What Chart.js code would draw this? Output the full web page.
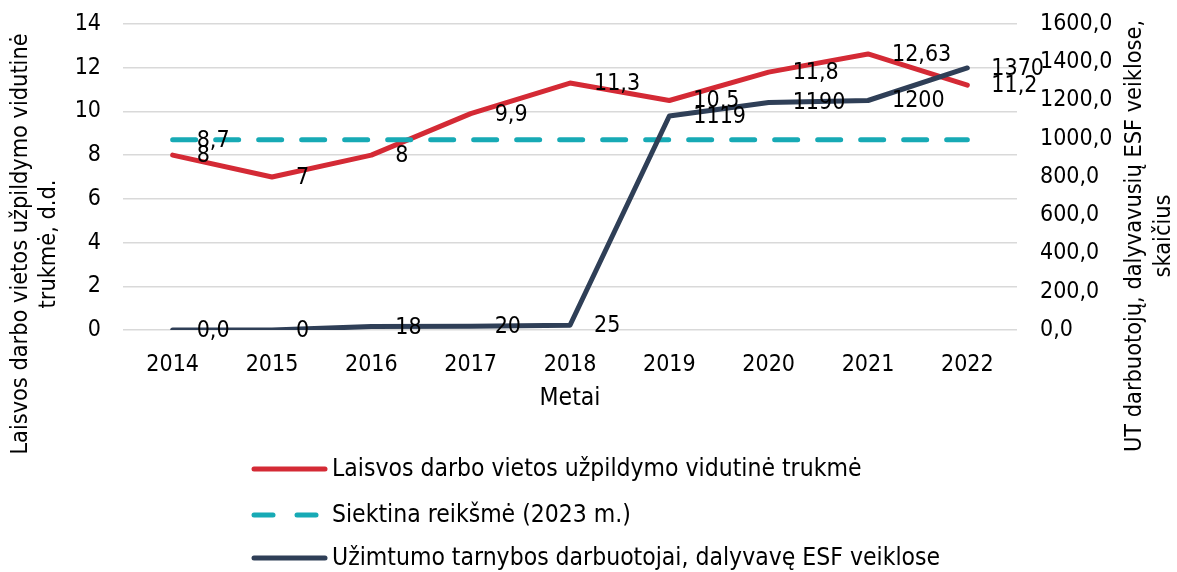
<!DOCTYPE html>
<html>
<head>
<meta charset="utf-8">
<script src="https://cdn.jsdelivr.net/npm/chart.js@4.4.0/dist/chart.umd.min.js"></script>
<style>
  html, body { margin: 0; padding: 0; background: #ffffff; }
  #wrap { width: 1177px; height: 572px; }
</style>
</head>
<body>
<div id="wrap"><canvas id="c" width="1177" height="572"></canvas></div>
<script>
// ---- data ----
const years = ['2014', '2015', '2016', '2017', '2018', '2019', '2020', '2021', '2022'];
const fillDuration = [8, 7, 8, 9.9, 11.3, 10.5, 11.8, 12.63, 11.2];
const targetValue = [8.7, 8.7, 8.7, 8.7, 8.7, 8.7, 8.7, 8.7, 8.7];
const staffInEsf = [0, 0, 18, 20, 25, 1119, 1190, 1200, 1370];

const fillDurationLabels = ['8', '7', '8', '9,9', '11,3', '10,5', '11,8', '12,63', '11,2'];
const targetLabels = ['8,7', null, null, null, null, null, null, null, null];
const staffLabels = ['0,0', '0', '18', '20', '25', '1119', '1190', '1200', '1370'];

const leftTickLabels = ['0', '2', '4', '6', '8', '10', '12', '14'];
const rightTickLabels = ['0,0', '200,0', '400,0', '600,0', '800,0', '1000,0', '1200,0', '1400,0', '1600,0'];

const seriesNames = [
  'Laisvos darbo vietos užpildymo vidutinė trukmė',
  'Siektina reikšmė (2023 m.)',
  'Užimtumo tarnybos darbuotojai, dalyvavę ESF veiklose'
];
const leftTitle = ['Laisvos darbo vietos užpildymo vidutinė', 'trukmė, d.d.'];
const rightTitle = ['UT darbuotojų, dalyvavusių ESF veiklose,', 'skaičius'];
const xTitle = 'Metai';

// ---- styles ----
const FONT = '"DejaVu Sans Condensed", "DejaVu Sans", sans-serif';
const FS_NUM = 23;
const FS_TXT = 24.5;
const FS_AX = 23.3;
const RED = '#d42a35';
const TEAL = '#17aab5';
const NAVY = '#2f3f57';
const DASH = [23, 20];

const dataLabels = [fillDurationLabels, targetLabels, staffLabels];

const labelPlugin = {
  id: 'pointLabels',
  afterDatasetsDraw(chart) {
    const ctx = chart.ctx;
    ctx.save();
    ctx.font = FS_NUM + 'px ' + FONT;
    ctx.fillStyle = '#000';
    ctx.textAlign = 'left';
    ctx.textBaseline = 'middle';
    chart.data.datasets.forEach((ds, di) => {
      const meta = chart.getDatasetMeta(di);
      const labs = dataLabels[di];
      meta.data.forEach((pt, i) => {
        if (labs[i] == null) return;
        ctx.fillText(labs[i], pt.x + 24, pt.y + 1);
      });
    });
    ctx.restore();
  }
};

const decorPlugin = {
  id: 'decor',
  afterDraw(chart) {
    const ctx = chart.ctx;
    const ca = chart.chartArea;
    ctx.save();
    ctx.fillStyle = '#000';
    ctx.textAlign = 'center';
    ctx.textBaseline = 'middle';
    // x title
    ctx.font = FS_TXT + 'px ' + FONT;
    ctx.fillText(xTitle, (ca.left + ca.right) / 2, 399);
    // axis titles
    ctx.font = FS_AX + 'px ' + FONT;
    const lx = [21, 49];
    leftTitle.forEach((t, i) => {
      ctx.save();
      ctx.translate(lx[i], 244);
      ctx.rotate(-Math.PI / 2);
      ctx.fillText(t, 0, 0);
      ctx.restore();
    });
    const rx = [1135, 1164];
    rightTitle.forEach((t, i) => {
      ctx.save();
      ctx.translate(rx[i], 236);
      ctx.rotate(-Math.PI / 2);
      ctx.fillText(t, 0, 0);
      ctx.restore();
    });
    // legend
    ctx.font = FS_TXT + 'px ' + FONT;
    const ly = [469, 515, 558];
    const colors = [RED, TEAL, NAVY];
    chart.data.datasets.forEach((ds, i) => {
      ctx.save();
      ctx.strokeStyle = colors[i];
      ctx.lineWidth = 5;
      ctx.lineCap = 'round';
      if (i === 1) {
        ctx.beginPath(); ctx.moveTo(254, ly[i]); ctx.lineTo(273, ly[i]); ctx.stroke();
        ctx.beginPath(); ctx.moveTo(297, ly[i]); ctx.lineTo(316, ly[i]); ctx.stroke();
      } else {
        ctx.beginPath(); ctx.moveTo(254, ly[i]); ctx.lineTo(325, ly[i]); ctx.stroke();
      }
      ctx.restore();
      ctx.textAlign = 'left';
      ctx.fillText(seriesNames[i], 332, ly[i] + 1);
    });
    ctx.restore();
  }
};

function noPad(s) { s.paddingTop = 0; s.paddingBottom = 0; }

new Chart(document.getElementById('c'), {
  type: 'line',
  data: {
    labels: years,
    datasets: [
      { label: seriesNames[0], data: fillDuration, yAxisID: 'y', borderColor: RED, borderWidth: 5,
        pointRadius: 0, tension: 0, order: 2, borderJoinStyle: 'round', borderCapStyle: 'round' },
      { label: seriesNames[1], data: targetValue, yAxisID: 'y', borderColor: TEAL, borderWidth: 5,
        borderDash: DASH, pointRadius: 0, tension: 0, order: 1, borderCapStyle: 'round' },
      { label: seriesNames[2], data: staffInEsf, yAxisID: 'y1', borderColor: NAVY, borderWidth: 5,
        pointRadius: 0, tension: 0, order: 0, borderJoinStyle: 'round', borderCapStyle: 'round' }
    ]
  },
  options: {
    responsive: false,
    animation: false,
    devicePixelRatio: 1,
    layout: { padding: { top: 24, bottom: 152, left: 0, right: 0 } },
    plugins: { legend: { display: false }, tooltip: { enabled: false } },
    scales: {
      x: {
        offset: true,
        grid: { display: false, drawTicks: false },
        border: { display: false },
        ticks: { color: '#000', font: { family: FONT, size: FS_NUM }, padding: 21, maxRotation: 0 },
        afterFit(s) { s.height = 90; s.paddingLeft = 0; s.paddingRight = 0; }
      },
      y: {
        position: 'left',
        min: 0, max: 14,
        grid: { color: '#d9d9d9', lineWidth: 1.5, drawTicks: false, tickLength: 0 },
        border: { display: false },
        ticks: { stepSize: 2, color: '#000', font: { family: FONT, size: FS_NUM }, padding: 22,
          callback: (v, i) => leftTickLabels[i] },
        afterFit(s) { s.width = 123; noPad(s); }
      },
      y1: {
        position: 'right',
        min: 0, max: 1600,
        grid: { display: false, drawTicks: false, tickLength: 0 },
        border: { display: false },
        ticks: { stepSize: 200, color: '#000', font: { family: FONT, size: FS_NUM }, padding: 23,
          callback: (v, i) => rightTickLabels[i] },
        afterFit(s) { s.width = 160; noPad(s); }
      }
    }
  },
  plugins: [labelPlugin, decorPlugin]
});
</script>
</body>
</html>
